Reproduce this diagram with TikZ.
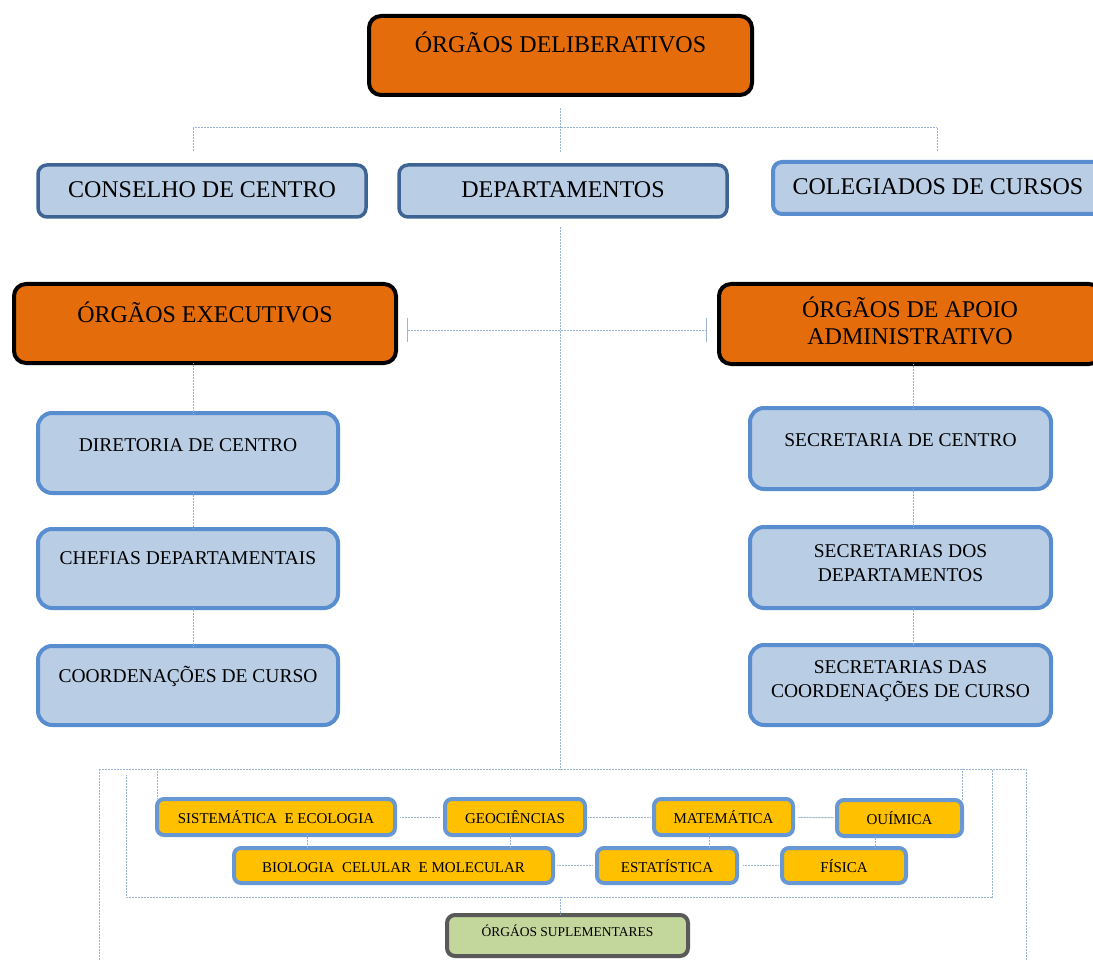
\documentclass[tikz,border=0pt]{standalone}
\usepackage{fontspec}
\setmainfont{Liberation Serif}
\usetikzlibrary{arrows.meta}
\definecolor{orng}{RGB}{228,108,10}
\definecolor{lblue}{RGB}{185,205,229}
\definecolor{dblue}{RGB}{62,100,148}
\definecolor{mblue}{RGB}{88,141,208}
\definecolor{yblue}{RGB}{104,152,212}
\definecolor{ylw}{RGB}{255,192,0}
\definecolor{lgreen}{RGB}{195,214,155}
\definecolor{dgray}{RGB}{89,89,89}
\definecolor{connc}{RGB}{155,180,210}
\newcommand\fA{\fontsize{24}{27}\selectfont}
\newcommand\fB{\fontsize{19.5}{24}\selectfont}
\newcommand\fC{\fontsize{15}{18}\selectfont}
\newcommand\fD{\fontsize{13.5}{16}\selectfont}
% #1 style, #2 name, #3 x1, #4 y1, #5 x2, #6 y2, #7 text lift, #8 text
\newcommand\obox[8]{\node[#1, minimum width={#5-#3-4}, minimum height={#6-#4-4}] (#2) at ({(#3+#5)/2},{(#4+#6)/2}) {\raisebox{\dimexpr #7pt-0.33em\relax}[0pt][0pt]{#8}};}
\newcommand\twol[2]{\begin{tabular}{@{}c@{}}#1\\#2\end{tabular}}
\begin{document}
\begin{tikzpicture}[x=1pt,y=-1pt,
  base/.style={rectangle, inner sep=0pt, outer sep=0pt, text=black},
  orangebox/.style={base, fill=orng, draw=black, line width=4pt, rounded corners=12pt, font=\fA},
  topblue/.style={base, fill=lblue, draw=dblue, line width=3.5pt, rounded corners=9pt, font=\fA},
  colegbox/.style={base, fill=lblue, draw=mblue, line width=4pt, rounded corners=9pt, font=\fA},
  colbox/.style={base, fill=lblue, draw=mblue, line width=4pt, rounded corners=14pt, font=\fB},
  ybox/.style={base, fill=ylw, draw=yblue, line width=4pt, rounded corners=7pt, font=\fC},
  gbox/.style={base, fill=lgreen, draw=dgray, line width=4pt, rounded corners=8pt, font=\fD},
  conn/.style={draw=connc, line width=1pt, dash pattern=on 1pt off 0.5pt}]
\useasboundingbox (0,0) rectangle (1093,960);

% top level
\obox{orangebox}{delib}{367}{14}{754}{97}{10.5}{ÓRGÃOS DELIBERATIVOS}
\obox{topblue}{conselho}{36}{163}{368}{219}{1}{CONSELHO DE CENTRO}
\obox{topblue}{deptos}{397}{163}{729}{219}{1}{DEPARTAMENTOS}
\obox{colegbox}{coleg}{771}{160}{1105}{216}{1}{COLEGIADOS DE CURSOS}

% executive / support
\obox{orangebox}{exec}{12}{282}{398}{365}{8.5}{ÓRGÃOS EXECUTIVOS}
\obox{orangebox}{apoio}{717}{282}{1103}{366}{0.5}{\twol{ÓRGÃOS DE APOIO}{ADMINISTRATIVO}}

\obox{colbox}{dir}{36}{411}{340}{495}{8}{DIRETORIA DE CENTRO}
\obox{colbox}{chef}{36}{527}{340}{610}{10.5}{CHEFIAS DEPARTAMENTAIS}
\obox{colbox}{coord}{36}{644}{340}{727}{9.5}{COORDENAÇÕES DE CURSO}

\obox{colbox}{secC}{748}{406}{1053}{491}{8.5}{SECRETARIA DE CENTRO}
\obox{colbox}{secD}{748}{525}{1053}{610}{4.5}{\twol{SECRETARIAS DOS}{DEPARTAMENTOS}}
\obox{colbox}{secCo}{748}{643}{1053}{727}{5.5}{\twol{SECRETARIAS DAS}{COORDENAÇÕES DE CURSO}}

% departments
\obox{ybox}{sist}{155}{797}{397}{837}{-1.7}{SISTEMÁTICA\ \ E ECOLOGIA}
\obox{ybox}{geo}{443}{797}{587}{837}{-1.7}{GEOCIÊNCIAS}
\obox{ybox}{mat}{652}{797}{795}{837}{-2}{MATEMÁTICA}
\obox{ybox}{qui}{835}{798}{964}{838}{-2}{OUÍMICA}
\obox{ybox}{bio}{232}{846}{555}{885}{-2}{BIOLOGIA\ \ CELULAR\ \ E MOLECULAR}
\obox{ybox}{est}{595}{846}{739}{885}{-2}{ESTATÍSTICA}
\obox{ybox}{fis}{780}{846}{908}{885}{-2}{FÍSICA}
\obox{gbox}{supl}{445}{913}{690}{958}{3.5}{ÓRGÁOS SUPLEMENTARES}

% coordinates
\coordinate (hL) at (193,128);
\coordinate (hR) at (937,128);
\coordinate (mid) at (560,330);
\coordinate (rc) at (913,366);
\coordinate (fT) at (560,769);
\coordinate (oLt) at (99,769);
\coordinate (oLb) at (99,960);
\coordinate (oRt) at (1026,769);
\coordinate (oRb) at (1026,960);
\coordinate (iLt) at (126,775);
\coordinate (iLb) at (126,897);
\coordinate (iRb) at (992,897);
\coordinate (iRt) at (992,769);
\coordinate (iB) at (560,897);

% connectors: top
\draw[conn, shorten <=13pt, shorten >=13pt] (delib.south) -- (delib.south |- deptos.north);
\draw[conn] (hL) -- (hR);
\draw[conn, shorten >=13pt] (hL) -- (hL |- conselho.north);
\draw[conn, shorten >=10pt] (hR) -- (hR |- coleg.north);
\draw[conn, shorten <=10pt] (deptos.south -| fT) -- (fT);
\draw[conn, {Bar[width=24pt]}-{Bar[width=24pt]}, shorten <=11pt, shorten >=12pt] (exec.east |- mid) -- (apoio.west |- mid);

% columns
\draw[conn] (exec.south -| hL) -- (dir.north -| hL);
\draw[conn] (dir.south -| hL) -- (chef.north -| hL);
\draw[conn] (chef.south -| hL) -- (coord.north -| hL);
\draw[conn] (apoio.south -| rc) -- (secC.north -| rc);
\draw[conn] (secC.south -| rc) -- (secD.north -| rc);
\draw[conn] (secD.south -| rc) -- (secCo.north -| rc);

% bottom frame
\draw[conn] (oLb) -- (oLt) -- (oRt) -- (oRb);
\draw[conn] (iLt) -- (iLb) -- (iRb) -- (iRt);
\draw[conn] (sist.north west |- oLt) -- (sist.north west);
\draw[conn] (qui.north east |- oRt) -- (qui.north east);
\draw[conn] (iB) -- (iB |- supl.north);

% department links
\draw[conn, shorten <=5pt, shorten >=5pt] (sist) -- (geo);
\draw[conn, shorten <=3pt, shorten >=4pt] (geo) -- (mat);
\draw[conn, shorten <=5pt, shorten >=3pt] (mat) -- (qui);
\draw[conn, shorten <=4pt, shorten >=4pt] (bio) -- (est);
\draw[conn, shorten <=6pt, shorten >=3pt] (est) -- (fis);
\draw[conn] ([xshift=31pt]sist.south) -- ([xshift=31pt]sist.south |- bio.north);
\draw[conn] ([xshift=-5pt]geo.south) -- ([xshift=-5pt]geo.south |- bio.north);
\draw[conn] ([xshift=-14.5pt]mat.south) -- ([xshift=-14.5pt]mat.south |- est.north);
\draw[conn] ([xshift=-24.5pt]qui.south) -- ([xshift=-24.5pt]qui.south |- fis.north);
\end{tikzpicture}
\end{document}
